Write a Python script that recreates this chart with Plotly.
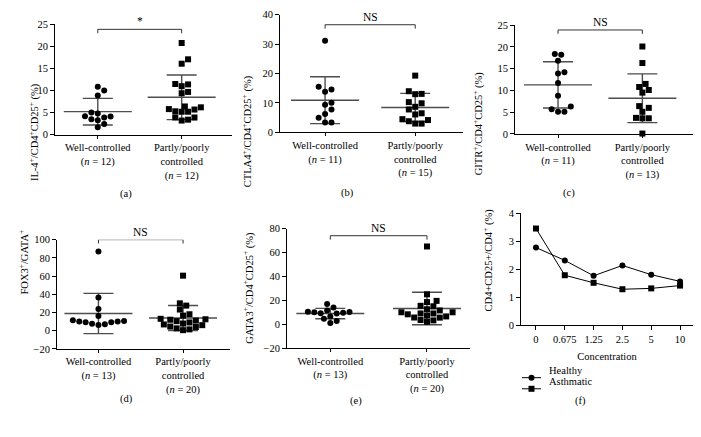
import numpy as np
import plotly.graph_objects as go

# ---------------- data ----------------
groups = ["Well-controlled", "Partly/poorly controlled"]

il4_well = [10.9, 10.0, 8.9, 4.2, 3.9, 3.25, 3.5, 4.1, 5.0, 4.8, 1.7, 2.4]
il4_poor = [20.8, 17.1, 16.1, 11.4, 11.0, 11.5, 9.4, 9.7, 6.2, 5.7, 5.2, 5.2, 5.3, 5.8, 6.4, 3.9, 3.2, 3.4, 3.9]

ctla4_well = [31.2, 14.6, 13.8, 15.5, 9.4, 10.1, 7.8, 6.3, 5.0, 3.4, 3.4]
ctla4_poor = [19.3, 13.1, 13.0, 14.0, 10.3, 9.9, 8.7, 7.8, 6.5, 6.1, 4.5, 3.8, 3.0, 3.0, 4.2]

gitr_well = [18.4, 18.2, 16.8, 14.2, 13.9, 11.7, 8.8, 5.7, 6.3, 5.1, 5.1]
gitr_poor = [20.1, 16.3, 11.5, 10.1, 10.8, 9.5, 6.0, 6.4, 5.1, 3.6, 3.6, 3.7, 0.1]

fox3_well = [87, 36.4, 23.9, 16.1, 11.4, 10, 9.3, 7.5, 6.1, 7.1, 9.3, 10, 10.7]
fox3_poor = [60.4, 30, 27.5, 23.2, 18, 16.5, 13, 12.5, 12, 11, 10.4, 9, 7.8, 6.8, 6, 4.5, 4, 2.5, 1.4, 0.5]

gata3_well = [17, 14, 10.5, 10, 11.5, 9, 9.2, 9.5, 10.3, 4.6, 6.5, 1.1, 2.7]
gata3_poor = [65, 25, 18.5, 19.5, 15, 15.4, 12.5, 6.5, 5.6, 10, 9, 9, 10, 11.5, 8.3, 5.5, 7.2, 3.5, 2, 3.2]

conc_labels = ["0", "0.675", "1.25", "2.5", "5", "10"]
healthy = [2.77, 2.31, 1.76, 2.13, 1.80, 1.56]
asthmatic = [3.45, 1.78, 1.51, 1.28, 1.31, 1.41]
series_names = ["Healthy", "Asthmatic"]

n_labels = [("12", "12"), ("11", "15"), ("11", "13"), ("13", "20"), ("13", "20")]
sig_labels = ["*", "NS", "NS", "NS", "NS"]
ytitles = [
    "IL-4<sup>+</sup>/CD4<sup>+</sup>CD25<sup>+</sup> (%)",
    "CTLA4<sup>+</sup>/CD4<sup>+</sup>CD25<sup>+</sup> (%)",
    "GITR<sup>+</sup>/CD4<sup>+</sup>CD25<sup>+</sup> (%)",
    "FOX3<sup>+</sup>/GATA<sup>+</sup>",
    "GATA3<sup>+</sup>/CD4<sup>+</sup>CD25<sup>+</sup> (%)",
]
f_ytitle = "CD4+CD25+/CD4<sup>+</sup> (%)"
panel_letters = ["(a)", "(b)", "(c)", "(d)", "(e)", "(f)"]

# ---------------- layout (pixels) ----------------
W, H = 701, 437
FONT = "Liberation Serif, Times New Roman, serif"
FS = 10.5

geo = [
    dict(x0=55, x1=232, yt=20, yb=133, xr=[-0.51, 1.6], yr=[0, 25], dt=5),
    dict(x0=280, x1=463, yt=10, yb=130.7, xr=[-0.5, 1.53], yr=[0, 40], dt=10),
    dict(x0=515, x1=693, yt=20.7, yb=132.3, xr=[-0.51, 1.6], yr=[0, 25], dt=5),
    dict(x0=57, x1=230, yt=240.7, yb=352.7, xr=[-0.49, 1.555], yr=[-20, 100], dt=20),
    dict(x0=287, x1=470, yt=229.3, yb=352, xr=[-0.448, 1.445], yr=[-20, 80], dt=20),
    dict(x0=521, x1=693, yt=213.5, yb=328.3, xr=[-0.52, 5.45], yr=[0, 4], dt=1),
]
sig_y = [23.9, 36.6, 23.9, 100, 74]
title_pos = [(25, 78), (247, 70), (487, 66), (15, 299), (248, 290), (497, 262)]
letter_pos = [(118, 194), (347, 193), (577, 193), (118, 412), (356, 414), (588, 414)]

data_sets = [(il4_well, il4_poor), (ctla4_well, ctla4_poor), (gitr_well, gitr_poor),
             (fox3_well, fox3_poor), (gata3_well, gata3_poor)]

fig = go.Figure()
layout = dict(width=W, height=H, margin=dict(l=0, r=0, t=0, b=0),
              paper_bgcolor="white", plot_bgcolor="white",
              font=dict(family=FONT, size=FS, color="black"), showlegend=False)
annotations = []
shapes = []


def scale(g):
    pxx = (g["x1"] - g["x0"]) / (g["xr"][1] - g["xr"][0])
    pxy = (g["yb"] - g["yt"]) / (g["yr"][1] - g["yr"][0])
    return pxx, pxy


def swarm(vals, center, pxx, pxy, d=6.4):
    order = np.argsort(vals)
    placed = []
    xs = [0.0] * len(vals)
    cands = [0.0]
    for j in range(1, 40):
        cands += [j * d / 2, -j * d / 2]
    for i in order:
        yp = vals[i] * pxy
        for c in cands:
            if all((px - c) ** 2 + (py - yp) ** 2 >= (d * 0.98) ** 2 for px, py in placed):
                placed.append((c, yp))
                xs[i] = center + c / pxx
                break
    return xs


for p, g in enumerate(geo):
    k = "" if p == 0 else str(p + 1)
    xa, ya = "x" + k, "y" + k
    layout["xaxis" + k] = dict(
        domain=[g["x0"] / W, g["x1"] / W], range=g["xr"], anchor=ya,
        showline=True, linecolor="black", linewidth=1, showgrid=False, zeroline=False,
        ticks="outside", ticklen=3, tickcolor="black", tickwidth=1,
        tickfont=dict(family=FONT, size=FS), fixedrange=True)
    layout["yaxis" + k] = dict(
        domain=[1 - g["yb"] / H, 1 - g["yt"] / H], range=g["yr"], anchor=xa,
        showline=True, linecolor="black", linewidth=1, showgrid=False, zeroline=False,
        ticks="outside", ticklen=4, tickcolor="black", tickwidth=1, dtick=g["dt"],
        tickfont=dict(family=FONT, size=FS), fixedrange=True)
    pxx, pxy = scale(g)
    lx, ly = letter_pos[p]
    annotations.append(dict(text=panel_letters[p], x=lx / W, y=1 - ly / H, xref="paper", yref="paper",
                            showarrow=False, font=dict(size=FS)))
    tx, ty = title_pos[p]
    if p < 5:
        annotations.append(dict(text=ytitles[p], x=tx / W, y=1 - ty / H, xref="paper", yref="paper",
                                showarrow=False, textangle=-90, font=dict(size=FS)))
        nw, npoor = n_labels[p]
        layout["xaxis" + k]["tickvals"] = [0, 1]
        layout["xaxis" + k]["ticktext"] = [
            "Well-controlled<br>(<i>n</i> = %s)" % nw,
            "Partly/poorly<br>controlled<br>(<i>n</i> = %s)" % npoor]
        well, poor = data_sets[p]
        for c, vals in enumerate([well, poor]):
            m = float(np.mean(vals))
            s = float(np.std(vals, ddof=1))
            mw = 34 / pxx
            cw = 15 / pxx
            lxs = [c - mw, c + mw, None, c, c, None, c - cw, c + cw, None, c - cw, c + cw]
            lys = [m, m, None, m - s, m + s, None, m + s, m + s, None, m - s, m - s]
            fig.add_trace(go.Scatter(x=lxs, y=lys, xaxis=xa, yaxis=ya, mode="lines",
                                     line=dict(color="#4d4d4d", width=1.4), showlegend=False,
                                     hoverinfo="skip", cliponaxis=False))
        for c, vals, sym in [(0, well, "circle"), (1, poor, "square")]:
            xs = swarm(vals, c, pxx, pxy)
            fig.add_trace(go.Scatter(x=xs, y=vals, xaxis=xa, yaxis=ya, mode="markers",
                                     marker=dict(symbol=sym, size=6, color="black"),
                                     showlegend=False, cliponaxis=False))
        h = sig_y[p]
        drop = 4 / pxy
        shapes.append(dict(type="line", xref=xa, yref=ya, x0=0, x1=1, y0=h, y1=h,
                           line=dict(color="#333", width=1)))
        for c in (0, 1):
            shapes.append(dict(type="line", xref=xa, yref=ya, x0=c, x1=c, y0=h, y1=h - drop,
                               line=dict(color="#333", width=1)))
        annotations.append(dict(text=sig_labels[p], x=0.5, y=h, xref=xa, yref=ya, showarrow=False,
                                yanchor="bottom", font=dict(size=FS + 1)))
    else:
        annotations.append(dict(text=f_ytitle, x=tx / W, y=1 - ty / H,
                                xref="paper", yref="paper", showarrow=False, textangle=-90,
                                font=dict(size=FS)))
        layout["xaxis" + k]["tickvals"] = list(range(len(conc_labels)))
        layout["xaxis" + k]["ticktext"] = conc_labels
        layout["xaxis" + k]["ticklen"] = 4
        layout["xaxis" + k]["title"] = dict(text="Concentration", font=dict(size=FS), standoff=9)
        xs = list(range(len(conc_labels)))
        for name, vals, sym in [(series_names[0], healthy, "circle"), (series_names[1], asthmatic, "square")]:
            fig.add_trace(go.Scatter(x=xs, y=vals, xaxis=xa, yaxis=ya, mode="lines+markers",
                                     name=name, line=dict(color="black", width=1),
                                     marker=dict(symbol=sym, size=6, color="black"), cliponaxis=False))

# manual legend for panel (f)
leg_x0, leg_x1, leg_mx, leg_tx = 522, 541, 531.5, 547
for i, (name, ly) in enumerate(zip(series_names, [382.3, 393.7])):
    yy = 1 - ly / H
    shapes.append(dict(type="line", xref="paper", yref="paper", x0=leg_x0 / W, x1=leg_x1 / W,
                       y0=yy, y1=yy, line=dict(color="black", width=1)))
    shapes.append(dict(type="circle" if i == 0 else "rect", xref="paper", yref="paper",
                       xsizemode="pixel", ysizemode="pixel", xanchor=leg_mx / W, yanchor=yy,
                       x0=-3, x1=3, y0=-3, y1=3, fillcolor="black", line=dict(width=0)))
    annotations.append(dict(text=name, x=leg_tx / W, y=yy, xref="paper", yref="paper",
                            xanchor="left", showarrow=False, font=dict(size=FS)))

layout["annotations"] = annotations
layout["shapes"] = shapes
fig.update_layout(**layout)
fig.write_html("out.html", config={"displayModeBar": False},
               post_script="document.body.style.margin='0';document.body.style.overflow='hidden';")
